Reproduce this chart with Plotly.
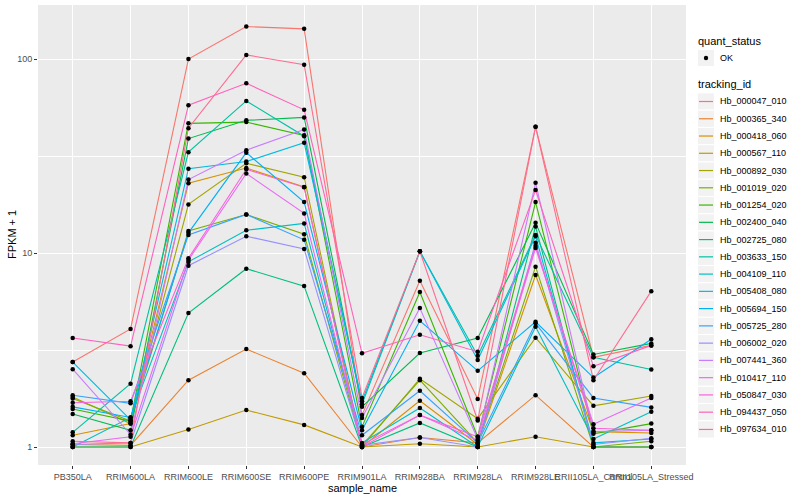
import plotly.graph_objects as go

samples = ["PB350LA", "RRIM600LA", "RRIM600LE", "RRIM600SE", "RRIM600PE", "RRIM901LA",
           "RRIM928BA", "RRIM928LA", "RRIM928LE", "RRII105LA_Control", "RRII105LA_Stressed"]

tracking_ids = ["Hb_000047_010", "Hb_000365_340", "Hb_000418_060", "Hb_000567_110", "Hb_000892_030",
                "Hb_001019_020", "Hb_001254_020", "Hb_002400_040", "Hb_002725_080", "Hb_003633_150",
                "Hb_004109_110", "Hb_005408_080", "Hb_005694_150", "Hb_005725_280", "Hb_006002_020",
                "Hb_007441_360", "Hb_010417_110", "Hb_050847_030", "Hb_094437_050", "Hb_097634_010"]

colors = ["#F8766D", "#EA8331", "#D89000", "#C09B00", "#A3A500", "#7CAE00", "#39B600", "#00BB4E",
          "#00BF7D", "#00C1A3", "#00BFC4", "#00BAE0", "#00B0F6", "#35A2FF", "#9590FF", "#C77CFF",
          "#E76BF3", "#FA62DB", "#FF62BC", "#FF6C91"]

quant_status = ["OK"]

# FPKM + 1 per tracking id, in sample order
hb_000047_010 = [2.74, 4.06, 100, 147, 143, 1.46, 7.2, 1.77, 44.7, 2.9, 3.34]
hb_000365_340 = [1.03, 1.02, 2.21, 3.2, 2.4, 1.0, 1.12, 1.05, 1.85, 1.0, 1.0]
hb_000418_060 = [1.15, 1.32, 22.9, 27.4, 21.9, 1.0, 1.73, 1.03, 7.7, 1.2, 1.18]
hb_000567_110 = [1.0, 1.0, 1.23, 1.55, 1.3, 1.0, 1.04, 1.0, 1.13, 1.0, 1.0]
hb_000892_030 = [1.81, 1.32, 17.8, 29.0, 24.6, 1.0, 2.25, 1.4, 3.66, 1.63, 1.83]
hb_001019_020 = [1.78, 1.36, 13.0, 15.8, 12.5, 1.02, 2.21, 1.05, 8.5, 1.0, 1.07]
hb_001254_020 = [1.57, 1.36, 46.6, 47.3, 40.4, 1.27, 6.3, 1.13, 18.3, 1.17, 1.32]
hb_002400_040 = [1.48, 1.22, 38.9, 48.3, 50.0, 1.61, 3.05, 3.65, 14.3, 3.0, 3.42]
hb_002725_080 = [1.0, 1.0, 4.9, 8.3, 6.75, 1.0, 1.33, 1.0, 13.7, 1.0, 1.0]
hb_003633_150 = [1.19, 2.12, 33.1, 60.8, 40.0, 1.66, 10.2, 2.95, 12.4, 2.9, 2.51]
hb_004109_110 = [1.0, 1.42, 9.0, 13.1, 14.2, 1.05, 1.59, 1.0, 4.17, 1.1, 1.52]
hb_005408_080 = [2.74, 1.38, 27.2, 29.6, 37.0, 1.72, 10.2, 2.81, 12.2, 1.05, 1.1]
hb_005694_150 = [1.61, 1.42, 12.7, 32.9, 18.3, 1.22, 4.47, 2.47, 4.42, 2.28, 3.59]
hb_005725_280 = [1.85, 1.68, 12.4, 15.8, 11.7, 1.15, 1.95, 1.05, 4.34, 1.79, 1.6]
hb_006002_020 = [1.03, 1.05, 8.6, 12.2, 10.5, 1.02, 1.12, 1.0, 11.3, 1.03, 1.11]
hb_007441_360 = [2.52, 1.16, 23.9, 33.9, 43.3, 1.41, 5.2, 1.1, 23.0, 1.2, 1.22]
hb_010417_110 = [1.04, 1.13, 9.2, 25.7, 16.0, 1.03, 1.46, 1.08, 10.6, 1.31, 1.79]
hb_050847_030 = [1.69, 1.72, 9.4, 27.0, 21.8, 1.0, 1.46, 1.13, 10.9, 1.25, 1.22]
hb_094437_050 = [3.65, 3.31, 57.8, 75.0, 54.7, 3.04, 3.79, 3.1, 21.1, 2.61, 3.34]
hb_097634_010 = [1.07, 1.05, 44.0, 105, 93.5, 1.79, 10.2, 1.37, 44.7, 2.21, 6.36]

series = [hb_000047_010, hb_000365_340, hb_000418_060, hb_000567_110, hb_000892_030,
          hb_001019_020, hb_001254_020, hb_002400_040, hb_002725_080, hb_003633_150,
          hb_004109_110, hb_005408_080, hb_005694_150, hb_005725_280, hb_006002_020,
          hb_007441_360, hb_010417_110, hb_050847_030, hb_094437_050, hb_097634_010]

FONT = "Liberation Sans, Arial, Helvetica, sans-serif"
W, H = 800, 500
ML, MR, MT, MB = 38, 114, 5, 35
PW, PH = W - ML - MR, H - MT - MB


def px(xp):
    return (xp - ML) / PW


def py(yp):
    return (H - MB - yp) / PH


fig = go.Figure()
for name, vals, col in zip(tracking_ids, series, colors):
    fig.add_trace(go.Scatter(x=samples, y=vals, mode="lines", name=name,
                             line=dict(color=col, width=1.1), showlegend=False))

all_x = [s for _ in series for s in samples]
all_y = [v for vals in series for v in vals]
fig.add_trace(go.Scatter(x=all_x, y=all_y, mode="markers", name=quant_status[0],
                         marker=dict(color="black", size=4.5), showlegend=False))

annotations = []
shapes = []

# axis titles
annotations.append(dict(text="sample_name", x=0.5, y=py(488), xref="paper", yref="paper",
                        xanchor="center", yanchor="middle", showarrow=False,
                        font=dict(size=11, color="black", family=FONT)))
annotations.append(dict(text="FPKM + 1", x=px(12), y=0.5, xref="paper", yref="paper",
                        xanchor="center", yanchor="middle", showarrow=False, textangle=-90,
                        font=dict(size=11, color="black", family=FONT)))

# ---- hand-built legend (ggplot style) ----
KX0, KX1 = 697.5, 714.5
TX = 717.5


def key_box(cy):
    shapes.append(dict(type="rect", xref="paper", yref="paper",
                       x0=px(KX0), x1=px(KX1), y0=py(cy + 8.6), y1=py(cy - 8.6),
                       fillcolor="#F2F2F2", line=dict(color="white", width=1), layer="above"))


annotations.append(dict(text="quant_status", x=px(696), y=py(40.5), xref="paper", yref="paper",
                        xanchor="left", yanchor="middle", showarrow=False,
                        font=dict(size=11, color="black", family=FONT)))
ok_y = 58
key_box(ok_y)
shapes.append(dict(type="circle", xref="paper", yref="paper",
                   x0=px(706 - 2.2), x1=px(706 + 2.2), y0=py(ok_y + 2.2), y1=py(ok_y - 2.2),
                   fillcolor="black", line=dict(color="black", width=0), layer="above"))
annotations.append(dict(text=quant_status[0], x=px(TX), y=py(ok_y), xref="paper", yref="paper",
                        xanchor="left", yanchor="middle", showarrow=False,
                        font=dict(size=9, color="black", family=FONT)))

annotations.append(dict(text="tracking_id", x=px(696), y=py(84), xref="paper", yref="paper",
                        xanchor="left", yanchor="middle", showarrow=False,
                        font=dict(size=11, color="black", family=FONT)))
for i, (name, col) in enumerate(zip(tracking_ids, colors)):
    cy = 101.5 + i * 17.26
    key_box(cy)
    shapes.append(dict(type="line", xref="paper", yref="paper",
                       x0=px(KX0 + 1.5), x1=px(KX1 - 1.5), y0=py(cy), y1=py(cy),
                       line=dict(color=col, width=1.2), layer="above"))
    annotations.append(dict(text=name, x=px(TX), y=py(cy), xref="paper", yref="paper",
                            xanchor="left", yanchor="middle", showarrow=False,
                            font=dict(size=9, color="black", family=FONT)))

fig.update_layout(
    width=W, height=H, showlegend=False,
    margin=dict(l=ML, r=MR, t=MT, b=MB, autoexpand=False),
    paper_bgcolor="white", plot_bgcolor="#EBEBEB",
    font=dict(family=FONT, size=9, color="#4D4D4D"),
    xaxis=dict(type="category", categoryorder="array", categoryarray=samples,
               range=[-0.6, 10.6], showgrid=True, gridcolor="white", gridwidth=1.1,
               ticks="outside", ticklen=3, tickcolor="#333333", tickangle=0,
               tickfont=dict(size=9, color="#4D4D4D"), automargin=False,
               zeroline=False, showline=False),
    yaxis=dict(type="log", range=[-0.0928, 2.2784], tickvals=[1, 10, 100],
               ticktext=["1", "10", "100"], showgrid=True, gridcolor="white", gridwidth=1.1,
               minor=dict(tickvals=[3.1623, 31.623], showgrid=True, gridcolor="white",
                          gridwidth=0.5, ticks=""),
               ticks="outside", ticklen=3, tickcolor="#333333", automargin=False,
               tickfont=dict(size=9, color="#4D4D4D"),
               zeroline=False, showline=False),
    annotations=annotations,
    shapes=shapes,
)

fig.write_html("out.html", config={"displayModeBar": False},
               post_script="document.body.style.margin='0px';")
